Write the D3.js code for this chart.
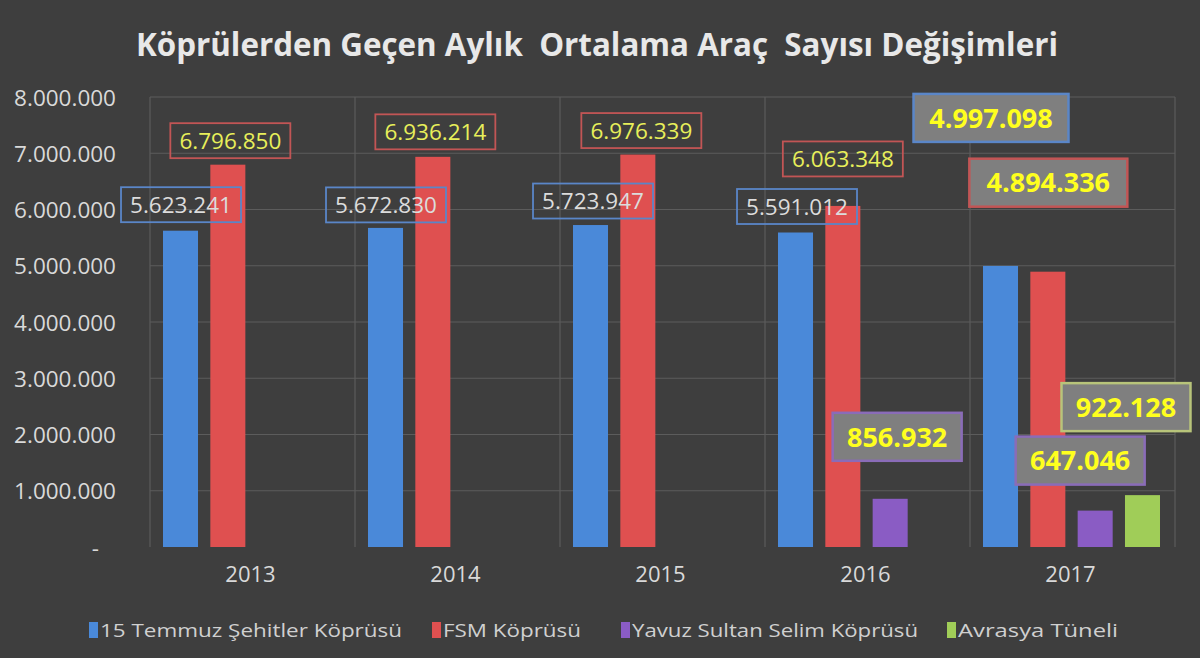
<!DOCTYPE html>
<html><head><meta charset="utf-8">
<script src="https://cdn.jsdelivr.net/npm/d3@7"></script>
<style>html,body{margin:0;padding:0;background:#3e3e3e;}svg{display:block;}</style>
</head><body>
<script>
const years = ["2013","2014","2015","2016","2017"];
const seriesNames = ["15 Temmuz Şehitler Köprüsü","FSM Köprüsü","Yavuz Sultan Selim Köprüsü","Avrasya Tüneli"];
const s15Temmuz = [5623241, 5672830, 5723947, 5591012, 4997098];
const sFSM = [6796850, 6936214, 6976339, 6063348, 4894336];
const sYavuz = [null, null, null, 856932, 647046];
const sAvrasya = [null, null, null, null, 922128];
const yTicks = [0,1000000,2000000,3000000,4000000,5000000,6000000,7000000,8000000];
const title = "Köprülerden Geçen Aylık  Ortalama Araç  Sayısı Değişimleri";

// label placement (box-centre offset from bar top-centre, px) and style
const labelDx = [[0.5,0.5,2.5,1.5,-9.5],[2.5,2.5,3.5,0,0.5],[0,0,0,7,-15],[0,0,0,0,-16.5]];
const labelDy = [[-26,-23,-24,-26,-148],[-24,-25,-24,-47,-89],[0,0,0,-62,-50],[0,0,0,0,-88]];
const labelBig = [[0,0,0,0,1],[0,0,0,0,1],[0,0,0,1,1],[0,0,0,0,1]];

const colors = ["#4a89d9","#df5050","#8a5cc4","#a0cd58"];
const borderColors = ["#5a86c8","#c25555","#8a6cb8","#b8c47a"];

const W=1200,H=658;
const svg=d3.select("body").append("svg").attr("width",W).attr("height",H);
svg.append("rect").attr("width",W).attr("height",H).attr("fill","#3e3e3e");

const x0=d3.scaleBand().domain(years).range([150,1175]).padding(0);
const x1=d3.scaleBand().domain(d3.range(4)).range([13,190]).paddingInner(0.26).paddingOuter(0);
const y=d3.scaleLinear().domain([0,8000000]).range([547,97]);

const fmt = v => d3.format(",")(v).replace(/,/g,".");

// gridlines
const grid=svg.append("g").attr("stroke","#5c5c5c").attr("stroke-width",1.2);
grid.selectAll("line.h").data(yTicks.filter(d=>d>0)).join("line")
  .attr("x1",150).attr("x2",1175).attr("y1",d=>y(d)).attr("y2",d=>y(d));
const bounds=years.map(d=>x0(d)).concat([x0.range()[1]]);
grid.selectAll("line.v").data(bounds).join("line")
  .attr("x1",d=>d).attr("x2",d=>d).attr("y1",y(8000000)).attr("y2",y(0));

// y axis
const yAxis=d3.axisLeft(y).tickValues(yTicks).tickSize(0).tickPadding(0)
  .tickFormat(d=>d===0?"-":fmt(d));
const ya=svg.append("g").attr("transform","translate(116,0)").call(yAxis);
ya.select(".domain").remove();
ya.selectAll("text").attr("fill","#d9d9d9").attr("font-family","'Open Sans'").attr("font-size",22.5)
  .attr("dy","0.36em")
  .attr("dx",d=>d===0?-17:0);

// x axis
const xAxis=d3.axisBottom(x0).tickSize(0).tickPadding(0);
const xa=svg.append("g").attr("transform","translate(0,582)").call(xAxis);
xa.select(".domain").remove();
xa.selectAll("text").attr("fill","#d9d9d9").attr("font-family","'Open Sans'").attr("font-size",22)
  .attr("dy",0).attr("dx",-2);

// bars
const series=[s15Temmuz,sFSM,sYavuz,sAvrasya];
const barData=[];
series.forEach((arr,si)=>arr.forEach((v,yi)=>{ if(v!=null) barData.push({si,yi,v}); }));
svg.append("g").selectAll("rect").data(barData).join("rect")
  .attr("x",d=>x0(years[d.yi])+x1(d.si)).attr("width",x1.bandwidth())
  .attr("y",d=>y(d.v)).attr("height",d=>y(0)-y(d.v)).attr("fill",d=>colors[d.si]);

// labels
const lg=svg.append("g");
barData.forEach(d=>{
  const cx=x0(years[d.yi])+x1(d.si)+x1.bandwidth()/2+labelDx[d.si][d.yi];
  const cy=y(d.v)+labelDy[d.si][d.yi];
  const big=labelBig[d.si][d.yi]===1;
  const txt=fmt(d.v);
  let bw,bh;
  if(big){ bw = d.v>=1000000?155:129; bh=48; } else { bw=120; bh=35; }
  if(big && d.si===1) bw=158;
  lg.append("rect").attr("x",cx-bw/2).attr("y",cy-bh/2).attr("width",bw).attr("height",bh)
    .attr("fill",big?"#7f7f7f":"none").attr("stroke",borderColors[d.si]).attr("stroke-width",big?2.5:1.8);
  lg.append("text").attr("x",cx).attr("y",cy).attr("dy","0.36em").attr("text-anchor","middle")
    .attr("font-family","'Open Sans'").attr("font-weight",big?"bold":"normal")
    .attr("font-size",big?27:22.5)
    .attr("fill",big?"#ffff1e":(d.si===0?"#dcdcdc":"#e8ef5a"))
    .text(txt);
});

// title
svg.append("text").attr("x",597).attr("y",56).attr("text-anchor","middle")
  .attr("font-family","'Open Sans'").attr("font-weight","bold").attr("font-size",32)
  .attr("fill","#e8e8e8").attr("textLength",922).attr("lengthAdjust","spacingAndGlyphs")
  .style("white-space","pre").text(title);

// legend
const legX=[89,432,621,947], legW=[302,138,286,160];
const leg=svg.append("g");
seriesNames.forEach((n,i)=>{
  leg.append("rect").attr("x",legX[i]).attr("y",622).attr("width",9).attr("height",16).attr("fill",colors[i]);
  leg.append("text").attr("x",legX[i]+11).attr("y",637).attr("font-family","'Open Sans'").attr("font-size",18)
    .attr("fill","#d0d0d0").attr("textLength",legW[i]).attr("lengthAdjust","spacingAndGlyphs").text(n);
});
</script>
</body></html>
